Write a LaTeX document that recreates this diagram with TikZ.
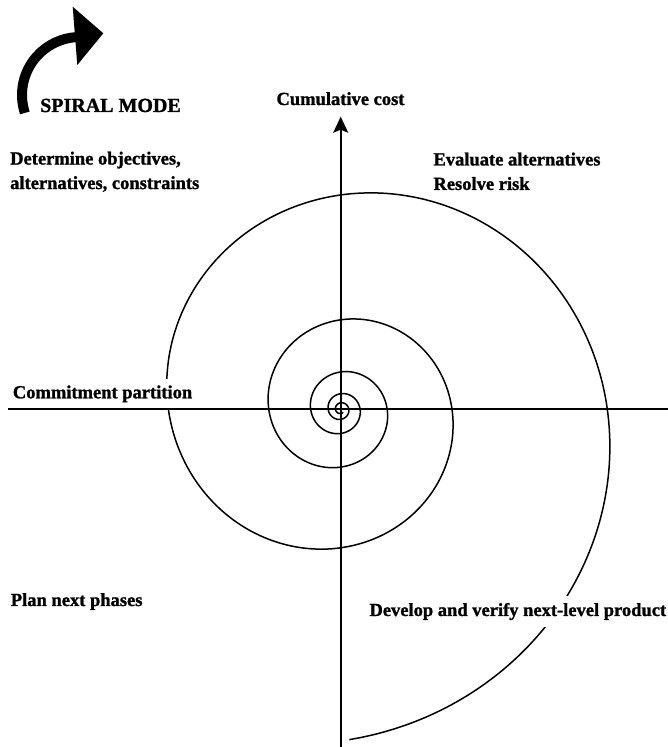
\documentclass[tikz,border=0pt]{standalone}
\usepackage{fontspec}
\setmainfont{Liberation Serif}[BoldFeatures={FakeBold=1.3}]
\usetikzlibrary{arrows.meta}
\begin{document}
\begin{tikzpicture}[x=1pt,y=1pt,
  lbl/.style={font=\bfseries\fontsize{18.5}{24.5}\selectfont, inner sep=0pt, align=left},
  axisline/.style={line width=1.6pt},
  spiralline/.style={line width=1.5pt, line join=round},
]
\useasboundingbox (0,0) rectangle (668,747);

% spiral
\draw[spiralline] plot[domain=-88.5:1750, samples=900, smooth, variable=\t]
  ({340.7+266.6*exp(-0.002431*\t)*cos(\t)}, {337.7+266.6*exp(-0.002431*\t)*sin(\t)});

% labels
\node[lbl, anchor=base] (cost) at (340.5,642) {Cumulative cost};
\node[font=\bfseries\fontsize{20}{24}\selectfont, inner sep=0pt, anchor=base west] (mode) at (40,635) {SPIRAL MODE};
\node[lbl, anchor=north west] (det) at (10,595.5) {Determine objectives,\\alternatives, constraints};
\node[lbl, anchor=north west] (eval) at (433.3,594.6) {Evaluate alternatives\\Resolve risk};
\node[lbl, anchor=base west, fill=white, inner xsep=2pt, inner ysep=6pt] (commit) at (10.7,348.7) {Commitment partition};
\node[lbl, anchor=base west] (plan) at (10.7,141) {Plan next phases};
\node[lbl, anchor=base west, fill=white, inner xsep=2pt, inner ysep=7pt] (dev) at (367.3,131) {Develop and verify next-level product};

% axes
\coordinate (hl) at (8,337.7);
\coordinate (hr) at (668,337.7);
\coordinate (vb) at (340.7,0);
\coordinate (vt) at (340.7,630.3);
\draw[axisline] (hl) -- (hr);
\draw[axisline, -{Stealth[length=16pt,width=15pt,inset=3pt]}] (vb) -- (vt);

% spiral mode icon
\draw[line width=10pt] (80,652) ++(198:58) arc[start angle=198, end angle=93, radius=58];
\fill (72.7,740.3) -- (103.3,713.7) -- (77.3,682) -- cycle;
\end{tikzpicture}
\end{document}
